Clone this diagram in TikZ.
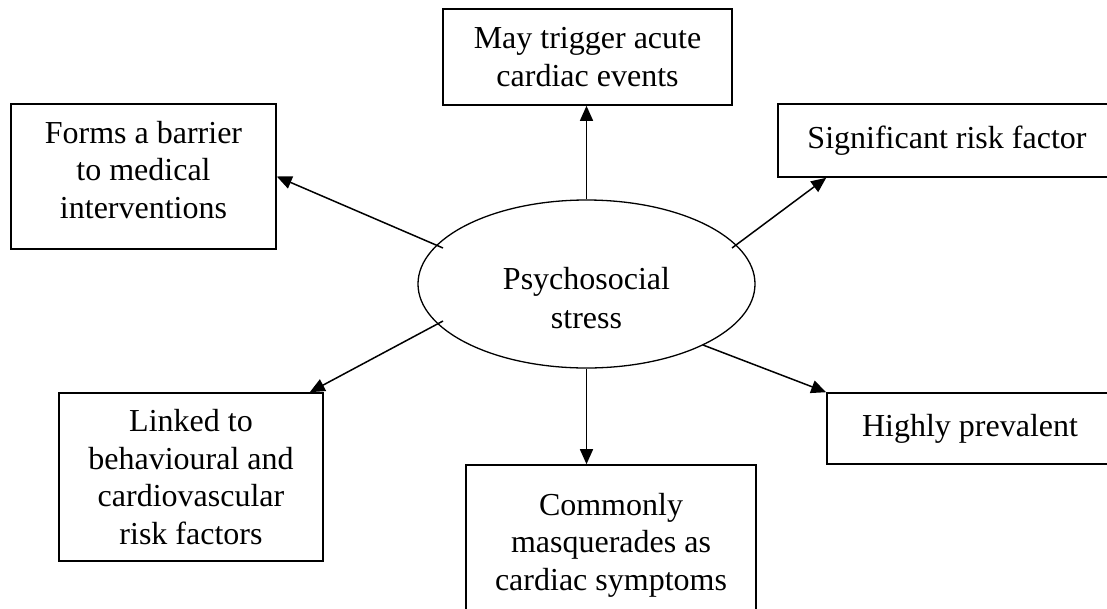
\documentclass[tikz,border=0pt]{standalone}
\usepackage{fontspec}
\setmainfont{Liberation Serif}
\usetikzlibrary{shapes.geometric,arrows.meta}
\begin{document}
\begin{tikzpicture}[x=1pt,y=-1pt,
  box/.style={draw,line width=1.6pt,rectangle,inner sep=0pt,align=center,
    font=\fontsize{32}{37.5}\selectfont},
  hub/.style={draw,line width=1.3pt,ellipse,inner sep=0pt,align=center,
    minimum width=337pt,minimum height=168pt,font=\fontsize{32}{38.5}\selectfont},
  arr/.style={line width=1.5pt,-{Triangle[length=15pt,width=13pt]}}]
\useasboundingbox (0,0) rectangle (1107,608);
\fill[white] (0,0) rectangle (1107,608);

\node[hub] (ps) at (586.5,284) {\rule{0pt}{50pt}Psychosocial\\stress};

\node[box,minimum width=289pt,minimum height=96pt] (top) at (587.5,57)
  {May trigger acute\\cardiac events};
\node[box,minimum width=338pt,minimum height=73pt] (sig) at (947,140.5)
  {Significant risk factor};
\node[box,minimum width=265pt,minimum height=145pt] (forms) at (143.5,176.5)
  {Forms a barrier\\to medical\\interventions\rule[-14pt]{0pt}{1pt}};
\node[box,minimum width=264pt,minimum height=168pt] (linked) at (191,477)
  {Linked to\\behavioural and\\cardiovascular\\risk factors};
\node[box,minimum width=290pt,minimum height=160pt] (common) at (611,545)
  {Commonly\\masquerades as\\cardiac symptoms};
\node[box,minimum width=286pt,minimum height=71pt] (highly) at (970,428.5)
  {Highly prevalent};

\coordinate (s2) at (732,248);
\coordinate (s3) at (443,248);
\coordinate (s4) at (443,321);
\coordinate (s6) at (703,345);

\draw[arr] (ps.north) -- (ps.north |- top.south);
\draw[arr] (s2) -- ([xshift=49pt]sig.south west);
\draw[arr] (s3) -- (forms.east);
\draw[arr] (s4) -- ([xshift=-14pt]linked.north east);
\draw[arr] (ps.south) -- (ps.south |- common.north);
\draw[arr] (s6) -- (highly.north west);
\end{tikzpicture}
\end{document}
